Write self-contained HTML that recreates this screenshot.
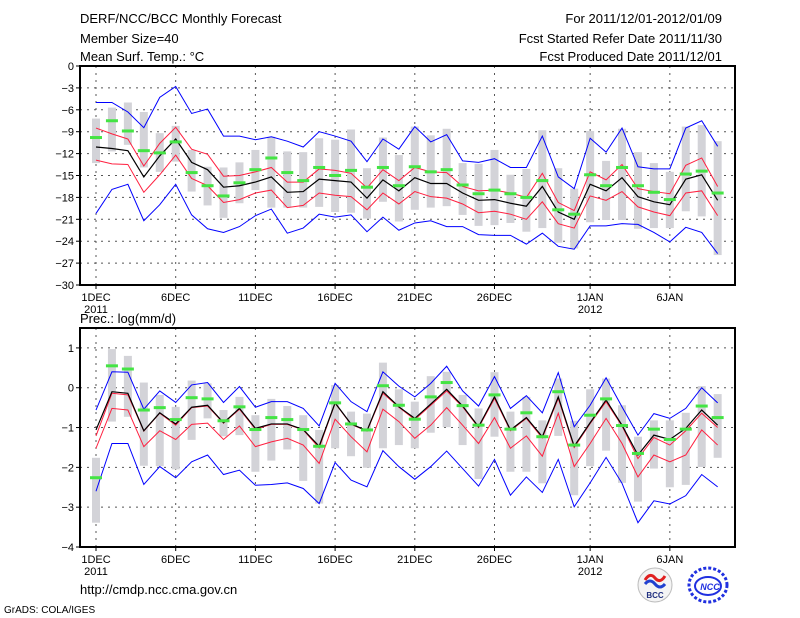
<!DOCTYPE html>
<html><head><meta charset="utf-8"><style>
body{margin:0;background:#fff;width:800px;height:618px;overflow:hidden}
svg{display:block;font-family:"Liberation Sans",sans-serif}
</style></head><body>
<svg id="c" width="800" height="618" viewBox="0 0 800 618">
<g font-size="13" fill="#000">
<text x="80" y="23">DERF/NCC/BCC Monthly Forecast</text>
<text x="80" y="43">Member Size=40</text>
<text x="80" y="61">Mean Surf. Temp.: °C</text>
<text x="722" y="23" text-anchor="end">For 2011/12/01-2012/01/09</text>
<text x="722" y="43" text-anchor="end">Fcst Started Refer Date 2011/11/30</text>
<text x="722" y="61" text-anchor="end">Fcst Produced Date 2011/12/01</text>
<text x="80" y="323">Prec.: log(mm/d)</text>
<text x="80" y="594">http://cmdp.ncc.cma.gov.cn</text>
<text x="4" y="613" font-size="10">GrADS: COLA/IGES</text>
</g>
<g id="top"></g>
<g id="bot"></g>
<g>
<circle cx="655" cy="585" r="17" fill="#f4f4f4" stroke="#bbb"/>
<path d="M645 580 q5 -8 10 -2 q5 6 10 -2" stroke="#e02020" stroke-width="3" fill="none"/>
<path d="M645 584 q5 -6 10 0 q5 6 10 0" stroke="#2040d0" stroke-width="3" fill="none"/>
<text x="655" y="598" font-size="8" font-weight="bold" text-anchor="middle" fill="#203080">BCC</text>
</g>
<g>
<ellipse cx="708" cy="585" rx="19" ry="17" fill="none" stroke="#2030e0" stroke-width="3" stroke-dasharray="3,2"/>
<ellipse cx="708" cy="586" rx="13" ry="9" fill="none" stroke="#2030e0" stroke-width="2"/>
<text x="710" y="590" font-size="9" font-weight="bold" font-style="italic" text-anchor="middle" fill="#2030e0">NCC</text>
</g>
</svg>
<script>
// ---- data: temperature (°C) ----
const tBlueHi=[-5.0,-5.0,-6.3,-8.45,-4.3,-2.8,-6.5,-5.9,-9.6,-9.6,-10.1,-9.7,-10.3,-11.1,-9.0,-9.6,-10.3,-13.1,-10.0,-11.4,-8.3,-10.4,-9.4,-13.0,-13.2,-12.7,-13.9,-13.9,-9.6,-15.2,-16.8,-9.9,-11.8,-8.5,-13.8,-14.1,-14.1,-8.5,-7.5,-11.0];
const tRedHi=[-8.5,-9.3,-10.0,-13.7,-10.6,-8.4,-11.4,-12.1,-15.1,-15.0,-14.5,-13.9,-15.9,-15.9,-14.1,-14.3,-14.7,-16.7,-14.2,-15.7,-13.9,-14.5,-14.6,-16.5,-17.1,-17.0,-17.4,-18.0,-14.7,-18.7,-19.8,-14.5,-15.6,-13.5,-16.8,-17.2,-17.5,-13.6,-12.6,-16.5];
const tMean=[-11.1,-11.3,-11.6,-15.2,-12.3,-10.0,-13.2,-14.2,-16.6,-16.4,-15.9,-15.2,-17.3,-17.2,-15.5,-15.7,-15.9,-18.1,-15.6,-17.1,-15.3,-16.1,-16.1,-17.4,-18.4,-18.3,-18.8,-19.2,-16.5,-20.0,-21.0,-16.2,-17.1,-15.3,-17.9,-18.6,-19.0,-15.5,-14.9,-18.4];
const tRedLo=[-12.9,-13.4,-13.5,-17.3,-14.9,-12.2,-15.4,-16.4,-18.7,-18.3,-17.4,-17.0,-19.4,-19.1,-17.4,-17.7,-17.9,-19.7,-17.4,-18.9,-17.2,-17.9,-18.1,-18.9,-20.1,-19.9,-20.3,-21.0,-18.6,-21.6,-22.2,-17.8,-18.4,-17.2,-19.3,-20.0,-20.5,-17.4,-17.1,-20.5];
const tBlueLo=[-20.2,-16.9,-16.2,-21.2,-19.0,-16.2,-20.4,-22.3,-22.8,-22.0,-20.5,-19.6,-22.9,-22.2,-20.3,-20.7,-20.4,-22.7,-20.7,-22.5,-21.5,-21.2,-22.0,-22.0,-23.1,-23.2,-23.2,-24.4,-22.9,-24.7,-25.1,-21.9,-21.9,-21.6,-21.7,-22.8,-24.1,-22.1,-22.8,-25.7];
const tObs=[-9.8,-7.5,-8.9,-11.6,-11.9,-10.4,-14.6,-16.4,-17.8,-16.0,-14.2,-12.6,-14.6,-15.7,-13.9,-15.0,-14.3,-16.6,-13.9,-16.4,-13.8,-14.5,-14.2,-16.3,-17.5,-17.0,-17.5,-18.0,-15.7,-19.7,-20.3,-14.9,-16.4,-13.9,-16.4,-17.3,-18.3,-14.8,-14.4,-17.4];
const tBarTop=[-7.2,-5.7,-5.0,-6.3,-9.2,-8.2,-11.5,-13.8,-13.9,-13.2,-11.5,-9.7,-11.7,-11.8,-9.9,-10.1,-8.7,-14.0,-9.8,-12.2,-8.3,-9.5,-8.6,-13.3,-13.4,-11.5,-14.9,-14.1,-8.8,-14.0,-16.8,-8.9,-13.0,-8.6,-11.8,-13.3,-14.5,-8.3,-8.1,-10.3];
const tBarBot=[-13.3,-11.7,-10.8,-13.9,-14.5,-13.1,-17.2,-19.1,-20.8,-18.8,-17.0,-19.4,-19.4,-19.4,-19.3,-20.0,-20.1,-20.9,-18.6,-21.3,-19.7,-19.4,-19.2,-20.4,-21.9,-21.8,-21.5,-22.7,-22.2,-24.2,-25.0,-21.4,-21.1,-21.1,-22.3,-22.2,-22.2,-19.9,-20.6,-25.9];
const tTicks=[0,-3,-6,-9,-12,-15,-18,-21,-24,-27,-30];
// ---- data: precipitation log(mm/d) ----
const pBlueHi=[-0.56,0.40,0.39,-0.54,-0.08,-0.37,0.07,0.13,-0.37,0.03,-0.49,-0.35,-0.35,-0.52,-0.96,0.11,-0.35,-0.60,0.40,0.04,-0.23,0.11,0.54,-0.08,-0.46,0.28,-0.52,-0.20,-0.63,0.38,-0.98,-0.44,0.25,-0.48,-1.19,-0.65,-0.77,-0.52,0.00,-0.38];
const pRedHi=[-1.21,-0.14,-0.18,-1.09,-0.64,-0.94,-0.50,-0.46,-0.89,-0.54,-1.04,-0.92,-0.92,-1.06,-1.51,-0.39,-0.92,-1.09,-0.14,-0.49,-0.80,-0.44,-0.08,-0.48,-1.00,-0.27,-1.08,-0.77,-1.26,-0.27,-1.50,-0.90,-0.35,-0.96,-1.78,-1.25,-1.44,-1.08,-0.64,-1.00];
const pMean=[-1.06,-0.10,-0.14,-1.08,-0.63,-0.91,-0.49,-0.44,-0.88,-0.52,-1.02,-0.91,-0.91,-1.05,-1.47,-0.38,-0.91,-1.08,-0.10,-0.48,-0.77,-0.41,-0.04,-0.46,-0.98,-0.23,-1.06,-0.75,-1.23,-0.23,-1.47,-0.88,-0.31,-0.94,-1.69,-1.19,-1.30,-1.02,-0.56,-0.94];
const pRedLo=[-1.52,-0.52,-0.56,-1.48,-1.08,-1.30,-0.92,-0.89,-1.30,-0.96,-1.48,-1.36,-1.27,-1.44,-1.90,-0.79,-1.23,-1.61,-0.54,-0.85,-1.27,-0.94,-0.50,-0.94,-1.40,-0.75,-1.52,-1.21,-1.72,-0.64,-1.98,-1.40,-0.77,-1.40,-2.24,-1.69,-1.86,-1.69,-1.06,-1.44];
const pBlueLo=[-2.60,-1.40,-1.40,-2.43,-1.98,-2.26,-1.86,-1.69,-2.18,-2.07,-2.45,-2.43,-2.39,-2.53,-2.91,-1.88,-2.32,-2.49,-1.58,-1.98,-2.30,-1.98,-1.59,-2.03,-2.47,-1.80,-2.70,-2.24,-2.63,-1.80,-2.99,-2.39,-1.75,-2.40,-3.39,-2.84,-2.92,-2.71,-2.18,-2.49];
const pObs=[-2.26,0.55,0.47,-0.56,-0.50,-0.80,-0.25,-0.28,-0.83,-0.48,-1.05,-0.75,-0.80,-1.05,-1.47,-0.38,-0.91,-1.06,0.05,-0.44,-0.79,-0.23,0.13,-0.45,-0.94,-0.18,-1.04,-0.63,-1.23,-0.10,-1.44,-0.69,-0.28,-0.95,-1.65,-1.04,-1.30,-1.04,-0.46,-0.75];
const pBarTop=[-1.76,0.97,0.80,0.13,-0.18,-0.48,0.18,0.11,-0.56,-0.23,-0.69,-0.28,-0.46,-0.69,-1.06,0.07,-0.60,-0.65,0.63,-0.04,-0.35,0.29,0.40,-0.18,-0.52,0.39,-0.60,-0.23,-0.82,0.23,-0.83,-0.04,0.23,-0.44,-1.23,-0.82,-0.82,-0.63,0.04,-0.16];
const pBarBot=[-3.39,-0.85,-0.73,-1.96,-1.97,-2.05,-1.31,-0.77,-1.22,-1.19,-2.11,-1.83,-1.55,-2.34,-2.91,-1.52,-1.72,-2.01,-1.52,-1.44,-1.52,-1.13,-0.99,-1.44,-2.29,-1.23,-2.11,-2.11,-2.40,-1.21,-2.70,-1.97,-1.58,-2.39,-2.86,-2.03,-2.50,-2.44,-1.99,-1.76];
const pTicks=[1,0,-1,-2,-3,-4];
// ---- x axis ----
const xTickIdx=[0,5,10,15,20,25,31,36];
const xTickLab=["1DEC","6DEC","11DEC","16DEC","21DEC","26DEC","1JAN","6JAN"];
const xTickYear=["2011","","","","","","2012",""];

const NS="http://www.w3.org/2000/svg";
const X0=80,X1=735;
const xs=i=>96+i*15.94;
function mk(p,tag,at){const e=document.createElementNS(NS,tag);for(const k in at)e.setAttribute(k,at[k]);p.appendChild(e);return e;}
function panel(g,top,bot,vmax,vmin,ticks,series,bars,obs){
  const ys=v=>top+(vmax-v)/(vmax-vmin)*(bot-top);
  ticks.forEach(t=>{
    const y=ys(t);
    if(t!==vmax&&t!==vmin){const l=mk(g,'line',{x1:X0,x2:X1,y1:y,y2:y,stroke:'#555','stroke-dasharray':'2,5','stroke-width':1});
    
    }
    const tk=mk(g,'line',{x1:X0-4,x2:X0,y1:y,y2:y,stroke:'#000'});
    
    
    const tx=mk(g,'text',{x:X0-6,y:y+4,'text-anchor':'end','font-size':11});
    tx.textContent=String(t).replace('-','\u2212');
    
    
  });
  xTickIdx.forEach((i,k)=>{
    const x=xs(i);
    const l=mk(g,'line',{x1:x,x2:x,y1:top,y2:bot,stroke:'#555','stroke-dasharray':'2,5'});
    
    
    const tk=mk(g,'line',{x1:x,x2:x,y1:bot,y2:bot+4,stroke:'#000'});
    
    
    const t=mk(g,'text',{x:x,y:bot+16,'text-anchor':'middle','font-size':11});
    t.textContent=xTickLab[k];
    
    
    if(xTickYear[k]){const t2=mk(g,'text',{x:x,y:bot+28,'text-anchor':'middle','font-size':11});
    t2.textContent=xTickYear[k];
    
    }
  });
  bars[0].forEach((v,i)=>{
    const y1=ys(v),y2=ys(bars[1][i]);
    const r=mk(g,'rect',{x:xs(i)-4,y:y1,width:8,height:y2-y1,fill:'#d3d3d8'});
    
    
  });
  series.forEach(s=>{
    const p=mk(g,'polyline',{points:s.d.map((v,i)=>xs(i)+','+ys(v)).join(' '),fill:'none',stroke:s.c,'stroke-width':s.w});
    
    
  });
  obs.forEach((v,i)=>{
    const r=mk(g,'rect',{x:xs(i)-6,y:ys(v)-1.5,width:12,height:3,fill:'#44e444'});
    
    
  });
  const f=mk(g,'rect',{x:X0,y:top,width:X1-X0,height:bot-top,fill:'none',stroke:'#000','stroke-width':2});
  
  
}
panel(document.getElementById('top'),66,285,0,-30,tTicks,
 [{d:tBlueHi,c:'#0000ff',w:1,n:'max-line'},{d:tBlueLo,c:'#0000ff',w:1,n:'min-line'},
  {d:tRedHi,c:'#ff1f3f',w:1,n:'upper-spread-line'},{d:tRedLo,c:'#ff1f3f',w:1,n:'lower-spread-line'},
  {d:tMean,c:'#000',w:1.2,n:'ensemble-mean-line'}],[tBarTop,tBarBot],tObs);
panel(document.getElementById('bot'),328,547,1.5,-4,pTicks,
 [{d:pBlueHi,c:'#0000ff',w:1,n:'max-line'},{d:pBlueLo,c:'#0000ff',w:1,n:'min-line'},
  {d:pRedHi,c:'#ff1f3f',w:1,n:'upper-spread-line'},{d:pRedLo,c:'#ff1f3f',w:1,n:'lower-spread-line'},
  {d:pMean,c:'#000',w:1.2,n:'ensemble-mean-line'}],[pBarTop,pBarBot],pObs);
</script>
</body></html>
